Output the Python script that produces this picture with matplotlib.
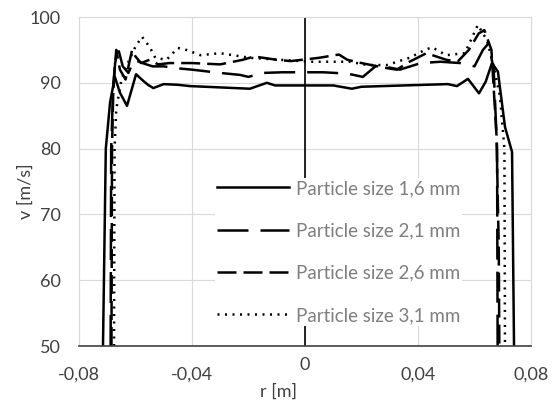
import matplotlib
matplotlib.use('Agg')
import matplotlib.pyplot as plt
from matplotlib.transforms import ScaledTranslation

# radial position [m] and velocity [m/s]
r_16 = [-0.0715, -0.0705, -0.0690, -0.0673, -0.0655, -0.0630, -0.0598, -0.0575, -0.0556,
        -0.0537, -0.0500, -0.0450, -0.0407, -0.0300, -0.0195, -0.0135, -0.0106, 0.0000,
        0.0100, 0.0166, 0.0200, 0.0350, 0.0506, 0.0538, 0.0577, 0.0616, 0.0640, 0.0662,
        0.0683, 0.0708, 0.0733, 0.0740]
v_16 = [50, 80, 87, 90.9, 88.5, 86.5, 91.3, 90.4, 89.7,
        89.2, 89.8, 89.7, 89.5, 89.3, 89.1, 90.0, 89.6, 89.6,
        89.6, 89.1, 89.4, 89.6, 89.8, 89.5, 90.6, 88.4, 90.2, 93.0,
        91.7, 83.3, 79.5, 50]

r_21 = [-0.0688, -0.0686, -0.0680, -0.0672, -0.0662, -0.0645, -0.0625, -0.0605, -0.0575,
        -0.0540, -0.0500, -0.0450, -0.0400, -0.0300, -0.0230, -0.0200, -0.0150, -0.0080,
        0.0000, 0.0064, 0.0150, 0.0205, 0.0255, 0.0336, 0.0410, 0.0480, 0.0550, 0.0600,
        0.0630, 0.0650, 0.0668, 0.0680, 0.0682]
v_21 = [50, 80, 88, 93, 95.3, 92.5, 91.5, 93.5, 93,
        92.5, 92.5, 92.2, 92, 91.5, 91.2, 90.9, 91.5, 91.6,
        91.6, 91.6, 91.4, 90.9, 92.7, 92.0, 93.0, 93.2, 93.0, 92.5,
        95.0, 96.0, 92, 80, 50]

r_26 = [-0.0685, -0.0683, -0.0678, -0.0668, -0.0655, -0.0635, -0.0612, -0.0600, -0.0580,
        -0.0550, -0.0520, -0.0480, -0.0400, -0.0300, -0.0220, -0.0180, -0.0100, -0.0050,
        0.0050, 0.0120, 0.0150, 0.0200, 0.0280, 0.0325, 0.0370, 0.0430, 0.0500, 0.0540,
        0.0580, 0.0615, 0.0635, 0.0660, 0.0678, 0.0686, 0.0688]
v_26 = [50, 80, 90, 95, 92, 90.5, 95, 94, 93,
        93.5, 92.8, 93, 93, 92.8, 93.5, 94, 93.5, 93.3,
        93.8, 94.3, 93.5, 93, 92.3, 92, 93.2, 94.5, 93.5, 93.2,
        95, 97.5, 98, 95, 82, 65, 50]

r_31 = [-0.0676, -0.0674, -0.0668, -0.0650, -0.0627, -0.0600, -0.0577, -0.0549, -0.0530,
        -0.0490, -0.0450, -0.0420, -0.0370, -0.0300, -0.0195, -0.0090, 0.0020, 0.0090,
        0.0160, 0.0220, 0.0290, 0.0370, 0.0425, 0.0450, 0.0500, 0.0566, 0.0612, 0.0644,
        0.0665, 0.0690, 0.0706, 0.0708]
v_31 = [50, 80, 86, 90.4, 93, 95.5, 97, 95.4, 93.8,
        93.5, 95.3, 95, 94.2, 94.5, 93.8, 93.5, 93.2, 93.2,
        93.2, 92.7, 92.7, 93.8, 95, 95.4, 94.2, 94.5, 98.8, 96.5,
        93, 88, 80, 50]

labels = ['Particle size 1,6 mm', 'Particle size 2,1 mm',
          'Particle size 2,6 mm', 'Particle size 3,1 mm']
xtick_vals = [-0.08, -0.04, 0, 0.04, 0.08]
xtick_labels = ['-0,08', '-0,04', '0', '0,04', '0,08']
ytick_vals = [50, 60, 70, 80, 90, 100]

plt.rcParams['font.family'] = ['Lato', 'DejaVu Sans']

fig = plt.figure(figsize=(5.55, 4.03), dpi=100)
ax = fig.add_axes([0.1423, 0.1414, 0.8144, 0.8164])

lw = 1.8
ax.plot(r_16, v_16, color='black', lw=lw, label=labels[0])
ax.plot(r_21, v_21, color='black', lw=lw, dashes=(12.4, 4.8), label=labels[1])
ax.plot(r_26, v_26, color='black', lw=lw, dashes=(7.6, 2.8), label=labels[2])
ax.plot(r_31, v_31, color='black', lw=lw, dashes=(0.8, 2.2), label=labels[3])

ax.axvline(0, color='black', lw=1.2, zorder=1.5)

ax.set_xlim(-0.08, 0.08)
ax.set_ylim(50, 100)
ax.set_xticks(xtick_vals)
ax.set_xticklabels(xtick_labels)
ax.set_yticks(ytick_vals)
ax.grid(True, color='#d9d9d9', lw=0.8)
ax.set_axisbelow(True)
for s in ['left', 'top', 'right']:
    ax.spines[s].set_color('#d9d9d9')
    ax.spines[s].set_linewidth(0.8)
ax.spines['bottom'].set_color('#404040')
ax.spines['bottom'].set_linewidth(1.2)

ax.tick_params(axis='both', length=0, labelsize=13, colors='#404040')
ax.tick_params(axis='y', pad=13)
ax.tick_params(axis='x', pad=15)

# the "0" label sits a little higher in the original
zero_lbl = ax.xaxis.get_major_ticks()[2].label1
zero_lbl.set_transform(zero_lbl.get_transform() + ScaledTranslation(0, 0.1, fig.dpi_scale_trans))

ax.set_xlabel('r [m]', fontsize=13, color='#404040')
ax.xaxis.set_label_coords(0.442, -0.115)
ax.set_ylabel('v [m/s]', fontsize=13, color='#404040')
ax.yaxis.set_label_coords(-0.1, 0.47)

leg = ax.legend(loc='center', bbox_to_anchor=(0.575, 0.286), fontsize=13.5,
                frameon=True, facecolor='white', edgecolor='none', framealpha=1,
                handlelength=3.8, handletextpad=0.4, labelspacing=1.35,
                borderpad=0.1, borderaxespad=0)
for t in leg.get_texts():
    t.set_color('#7f7f7f')

fig.savefig('out.png', dpi=100)
